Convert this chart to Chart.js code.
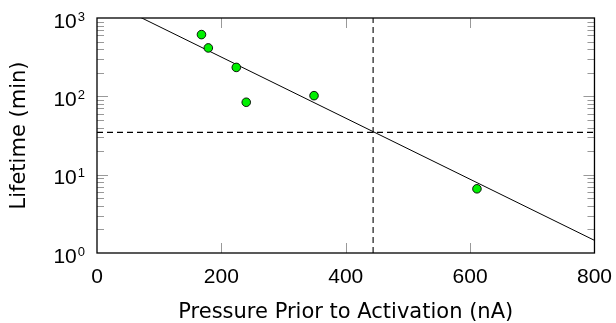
<!DOCTYPE html>
<html><head><meta charset="utf-8">
<script src="https://cdn.jsdelivr.net/npm/chart.js@4"></script>
<style>html,body{margin:0;padding:0;background:#fff}#c{display:block}</style>
</head><body>
<canvas id="c" width="616" height="323"></canvas>
<script>
const pressure = [168, 179, 224, 240, 349, 611];
const lifetime = [614, 415, 234, 84, 102, 6.6];
const fitX = [0, 800];
const fitY = [1910, 1.45];
const refX = 444;
const refY = 34.7;
const xTicks = [0, 200, 400, 600, 800];
const yTicks = [1, 10, 100, 1000];
const yTickBase = '10';
const yTickExp = ['0', '1', '2', '3'];
const xTitle = 'Pressure Prior to Activation (nA)';
const yTitle = 'Lifetime (min)';

const TICKFONT = 'Liberation Sans';
const TITLEFONT = 'DejaVu Sans';

const frame = {
  id: 'frame',
  afterDatasetsDraw(chart) {
    const {ctx, chartArea: a, scales: {x, y}} = chart;
    ctx.save();
    ctx.strokeStyle = '#999';
    ctx.lineWidth = 1;
    ctx.beginPath();
    xTicks.slice(1, -1).forEach(v => {
      const px = Math.round(x.getPixelForValue(v)) + 0.5;
      ctx.moveTo(px, a.bottom); ctx.lineTo(px, a.bottom - 10);
      ctx.moveTo(px, a.top); ctx.lineTo(px, a.top + 10);
    });
    for (let d = 0; d < 3; d++) {
      for (let m = 1; m <= 9; m++) {
        const v = m * Math.pow(10, d);
        if (v === 1) continue;
        const py = Math.round(y.getPixelForValue(v)) + 0.5;
        const len = (m === 1) ? 11 : 7;
        ctx.moveTo(a.left, py); ctx.lineTo(a.left + len, py);
        ctx.moveTo(a.right, py); ctx.lineTo(a.right - len, py);
      }
    }
    ctx.stroke();
    ctx.strokeStyle = '#000';
    ctx.lineWidth = 1.3;
    ctx.strokeRect(a.left, a.top, a.right - a.left, a.bottom - a.top);
    ctx.fillStyle = '#000';
    ctx.textBaseline = 'middle';
    yTicks.forEach((v, i) => {
      const py = y.getPixelForValue(v);
      ctx.font = '13px "' + TICKFONT + '"';
      const ew = ctx.measureText(yTickExp[i]).width;
      const ex = a.left - 12 - ew;
      ctx.textAlign = 'left';
      ctx.fillText(yTickExp[i], ex, py - 1);
      ctx.font = '21px "' + TICKFONT + '"';
      ctx.textAlign = 'right';
      ctx.fillText(yTickBase, ex - 1, py + 4);
    });
    ctx.restore();
  }
};

new Chart(document.getElementById('c'), {
  type: 'scatter',
  data: {
    datasets: [
      {
        label: 'data',
        data: pressure.map((v, i) => ({x: v, y: lifetime[i]})),
        backgroundColor: 'rgb(0,240,0)',
        borderColor: '#000',
        borderWidth: 0.9,
        pointRadius: 4.3,
        order: 0
      },
      {
        label: 'fit',
        type: 'line',
        data: fitX.map((v, i) => ({x: v, y: fitY[i]})),
        borderColor: '#000',
        borderWidth: 1,
        pointRadius: 0,
        fill: false,
        order: 1
      },
      {
        label: 'hline',
        type: 'line',
        data: [{x: 0, y: refY}, {x: 800, y: refY}],
        borderColor: '#000',
        borderWidth: 1.1,
        borderDash: [6, 4],
        pointRadius: 0,
        order: 2
      },
      {
        label: 'vline',
        type: 'line',
        data: [{x: refX, y: 1}, {x: refX, y: 1000}],
        borderColor: '#000',
        borderWidth: 1.1,
        borderDash: [6, 4],
        pointRadius: 0,
        order: 2
      }
    ]
  },
  options: {
    responsive: false,
    animation: false,
    devicePixelRatio: 1,
    layout: {padding: {top: 18, right: 20, left: 0, bottom: 0}},
    plugins: {legend: {display: false}, tooltip: {enabled: false}},
    scales: {
      x: {
        type: 'linear', min: 0, max: 800,
        afterBuildTicks(s) { s.ticks = xTicks.map(v => ({value: v})); },
        afterFit(s) { s.height = 70; },
        grid: {display: false},
        border: {display: false},
        ticks: {color: '#000', font: {family: TICKFONT, size: 21}, padding: 4, maxRotation: 0},
        title: {display: true, text: xTitle, color: '#000', font: {family: TITLEFONT, size: 21}, padding: {top: 4, bottom: -2}}
      },
      y: {
        type: 'logarithmic', min: 1, max: 1000,
        afterBuildTicks(s) { s.ticks = yTicks.map(v => ({value: v})); },
        afterFit(s) { s.width = 97; },
        grid: {display: false},
        border: {display: false},
        ticks: {display: false},
        title: {display: true, text: yTitle, color: '#000', font: {family: TITLEFONT, size: 21}, padding: {top: 7, bottom: 0}}
      }
    }
  },
  plugins: [frame]
});
</script>
</body></html>
